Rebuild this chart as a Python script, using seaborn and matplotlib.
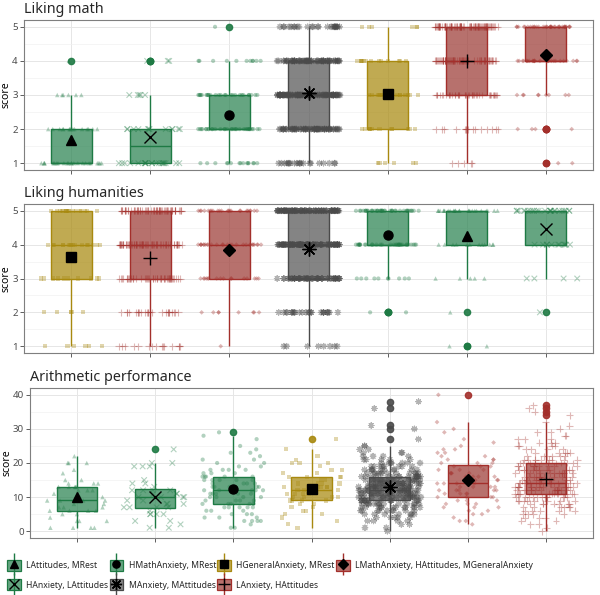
import numpy as np
import pandas as pd
import matplotlib
matplotlib.use("Agg")
import matplotlib.pyplot as plt
from matplotlib.colors import to_rgba
from matplotlib.lines import Line2D
from matplotlib.patches import Patch
from matplotlib.markers import MarkerStyle
from matplotlib.ticker import MultipleLocator
import seaborn as sns

sns.set_theme(style="ticks")
plt.rcParams['font.family'] = ['Noto Sans', 'DejaVu Sans']

# ---- groups, in legend order ----
groups = ["LAttitudes, MRest", "HMathAnxiety, MRest", "HGeneralAnxiety, MRest",
          "LMathAnxiety, HAttitudes, MGeneralAnxiety", "HAnxiety, LAttitudes",
          "MAnxiety, MAttitudes", "LAnxiety, HAttitudes"]
line_cols = ["#1e7a44", "#1e7a44", "#a8890f", "#a32f2b", "#1e7a44", "#4a4a4a", "#a32f2b"]
fill_cols = ["#2a8350", "#2a8350", "#a8890f", "#9c3a35", "#2a8350", "#555555", "#9c3a35"]
markers = ['^', 'o', 's', 'D', 'x', (8, 2, 0), '+']

# ---- Liking math / Liking humanities : counts for score 1..5 ----
likert_scores = [1, 2, 3, 4, 5]
math_counts = [
    [23, 15, 6, 1, 0],     # LAttitudes, MRest
    [15, 32, 26, 11, 1],   # HMathAnxiety, MRest
    [6, 12, 17, 14, 6],    # HGeneralAnxiety, MRest
    [2, 4, 9, 25, 35],     # LMathAnxiety, HAttitudes, MGeneralAnxiety
    [20, 12, 5, 3, 0],     # HAnxiety, LAttitudes
    [20, 60, 90, 65, 25],  # MAnxiety, MAttitudes
    [5, 15, 40, 65, 85],   # LAnxiety, HAttitudes
]
hum_counts = [
    [2, 1, 5, 12, 25],
    [0, 3, 10, 31, 41],
    [6, 5, 10, 16, 18],
    [1, 8, 16, 27, 23],
    [0, 1, 4, 11, 24],
    [8, 25, 50, 90, 87],
    [15, 25, 45, 65, 60],
]

# ---- Arithmetic performance : counts for score 0..40 ----
arith_scores = list(range(41))
arith_latt = [0, 4, 0, 3, 1, 2, 4, 3, 2, 4,
              2, 1, 3, 5, 3, 2, 0, 1, 1, 0,
              3, 0, 1, 0, 0, 0, 0, 0, 0, 0,
              0, 0, 0, 0, 0, 0, 0, 0, 0, 0, 0]
arith_hmath = [0, 2, 1, 4, 3, 3, 3, 5, 5, 4,
               4, 5, 6, 5, 4, 5, 5, 3, 4, 2,
               2, 2, 1, 2, 1, 1, 0, 1, 1, 1,
               0, 0, 0, 0, 0, 0, 0, 0, 0, 0, 0]
arith_hgen = [0, 1, 1, 1, 1, 2, 2, 2, 2, 4,
              4, 4, 4, 5, 4, 2, 4, 2, 2, 1,
              3, 1, 1, 0, 1, 0, 0, 1, 0, 0,
              0, 0, 0, 0, 0, 0, 0, 0, 0, 0, 0]
arith_lmath = [0, 0, 1, 2, 1, 2, 2, 3, 3, 3,
               4, 4, 5, 4, 4, 4, 4, 4, 3, 3,
               3, 3, 2, 2, 2, 1, 1, 1, 0, 1,
               1, 0, 1, 0, 0, 0, 0, 0, 0, 0, 1]
arith_hanx = [0, 2, 1, 2, 0, 4, 1, 4, 3, 2,
              4, 3, 4, 1, 2, 1, 0, 0, 0, 3,
              2, 0, 0, 0, 1, 0, 0, 0, 0, 0,
              0, 0, 0, 0, 0, 0, 0, 0, 0, 0, 0]
arith_manx = [1, 2, 2, 4, 5, 7, 9, 12, 14, 17,
              18, 20, 20, 20, 18, 17, 16, 12, 10, 8,
              7, 5, 4, 3, 2, 2, 0, 1, 0, 0,
              1, 1, 0, 0, 0, 0, 1, 0, 1, 0, 0]
arith_lanx = [1, 1, 2, 2, 3, 4, 5, 6, 7, 8,
              12, 13, 14, 15, 13, 10, 11, 10, 11, 8,
              9, 9, 6, 5, 4, 4, 3, 3, 2, 2,
              1, 1, 1, 0, 1, 1, 1, 1, 0, 0, 0]
arith_counts = [arith_latt, arith_hmath, arith_hgen, arith_lmath,
                arith_hanx, arith_manx, arith_lanx]

# order of boxes in each panel (sorted by mean)
math_order = ["LAttitudes, MRest", "HAnxiety, LAttitudes", "HMathAnxiety, MRest",
              "MAnxiety, MAttitudes", "HGeneralAnxiety, MRest",
              "LAnxiety, HAttitudes", "LMathAnxiety, HAttitudes, MGeneralAnxiety"]
hum_order = ["HGeneralAnxiety, MRest", "LAnxiety, HAttitudes",
             "LMathAnxiety, HAttitudes, MGeneralAnxiety", "MAnxiety, MAttitudes",
             "HMathAnxiety, MRest", "LAttitudes, MRest", "HAnxiety, LAttitudes"]
arith_order = ["LAttitudes, MRest", "HAnxiety, LAttitudes", "HMathAnxiety, MRest",
               "HGeneralAnxiety, MRest", "MAnxiety, MAttitudes",
               "LMathAnxiety, HAttitudes, MGeneralAnxiety", "LAnxiety, HAttitudes"]

pt_size = {'^': 3.2, 'o': 3.0, 's': 3.0, 'D': 2.4, 'x': 4.0, '+': 5.0, '*': 4.0}
mean_size = {'^': 7, 'o': 6.5, 's': 6.5, 'D': 6, 'x': 9, '+': 10, '*': 10}


def draw_panel(ax, counts, scores, order, title, ylab_x):
    np.random.seed(7)
    for name in order:
        i = groups.index(name)
        vals = np.repeat(scores, counts[i])
        df = pd.DataFrame({'group': name, 'score': vals})
        mk = markers[i]
        key = mk if isinstance(mk, str) else '*'
        sns.boxplot(data=df, x='group', y='score', order=order, ax=ax, width=0.52,
                    color=fill_cols[i], linecolor=line_cols[i], linewidth=1.0,
                    saturation=1, showcaps=False, showmeans=True,
                    meanprops=dict(marker=mk, markerfacecolor='black',
                                   markeredgecolor='black', markeredgewidth=1.0,
                                   markersize=mean_size[key], zorder=10),
                    flierprops=dict(marker='o', markerfacecolor=line_cols[i],
                                    markeredgecolor=line_cols[i], markersize=4.5,
                                    alpha=0.9))
        ax.patches[-1].set_facecolor(to_rgba(fill_cols[i], 0.72))
        ax.patches[-1].set_zorder(2)
        filled = MarkerStyle(mk).is_filled()
        n0 = len(ax.collections)
        sns.stripplot(data=df, x='group', y='score', order=order, ax=ax,
                      jitter=0.4, color=line_cols[i], marker=mk,
                      size=pt_size[key], linewidth=0 if filled else 0.7)
        a = 0.42 if key == '*' else 0.34
        for coll in ax.collections[n0:]:
            if filled:
                coll.set_facecolor(to_rgba(line_cols[i], a))
                coll.set_edgecolor('none')
            else:
                coll.set_facecolor('none')
                coll.set_edgecolor(to_rgba(line_cols[i], a))
                coll.set_linewidth(0.8)
            coll.set_zorder(3)

    ax.set_xlim(-0.6, 6.6)
    ax.set_xlabel('')
    ax.set_ylabel('score', fontsize=7.5, color='black')
    ax.yaxis.set_label_coords(ylab_x, 0.5)
    ax.set_xticks(range(7))
    ax.set_xticklabels([])
    ax.set_title(title, loc='left', fontsize=10.3, pad=5)
    ax.set_axisbelow(True)
    ax.tick_params(axis='both', which='major', length=3, width=0.6, color='#444444',
                   labelsize=7, labelcolor='#4d4d4d', pad=1.5)
    ax.tick_params(axis='y', which='minor', length=0)
    for sp in ax.spines.values():
        sp.set_visible(True)
        sp.set_color('#7f7f7f')
        sp.set_linewidth(0.8)


fig = plt.figure(figsize=(6, 5.95), dpi=100)
W, H = 600, 595
ax1 = fig.add_axes([24 / W, (H - 170) / H, 569 / W, 150 / H])
ax2 = fig.add_axes([24 / W, (H - 353) / H, 569 / W, 149 / H])
ax3 = fig.add_axes([30 / W, (H - 538) / H, 563 / W, 150 / H])

draw_panel(ax1, math_counts, likert_scores, math_order, 'Liking math', -0.0211)
draw_panel(ax2, hum_counts, likert_scores, hum_order, 'Liking humanities', -0.0211)
draw_panel(ax3, arith_counts, arith_scores, arith_order, 'Arithmetic performance', -0.0305)

for ax in (ax1, ax2):
    ax.set_ylim(0.8, 5.2)
    ax.set_yticks([1, 2, 3, 4, 5])
    ax.yaxis.set_minor_locator(MultipleLocator(0.5))
ax3.set_ylim(-2, 42)
ax3.set_yticks([0, 10, 20, 30, 40])
ax3.yaxis.set_minor_locator(MultipleLocator(5))
for ax in (ax1, ax2, ax3):
    ax.grid(which='major', color='#e6e6e6', linewidth=0.7)
    ax.grid(which='minor', axis='y', color='#f0f0f0', linewidth=0.45)

# legend (column-major order so rows read like the original)
leg_order = [0, 4, 1, 5, 2, 6, 3]
handles, labels = [], []
for i in leg_order:
    mk = markers[i]
    key = mk if isinstance(mk, str) else '*'
    stub = Line2D([0], [0], color=line_cols[i], marker='|', markersize=16,
                  markeredgewidth=1.0, linestyle='none')
    box = Patch(facecolor=to_rgba(fill_cols[i], 0.72), edgecolor=line_cols[i], linewidth=0.9)
    mean = Line2D([0], [0], color='black', marker=mk, linestyle='none',
                  markersize=mean_size[key] * 0.8, markeredgewidth=1.0)
    handles.append((stub, box, mean))
    labels.append(groups[i])

fig.legend(handles, labels, ncol=4, loc='upper left', bbox_to_anchor=(0.012, (H - 560) / H),
           frameon=False, fontsize=6.2, handlelength=1.6, handleheight=1.55,
           handletextpad=0.6, columnspacing=0.15, labelspacing=1.0,
           borderaxespad=0, borderpad=0)

fig.savefig('out.png', dpi=100)
